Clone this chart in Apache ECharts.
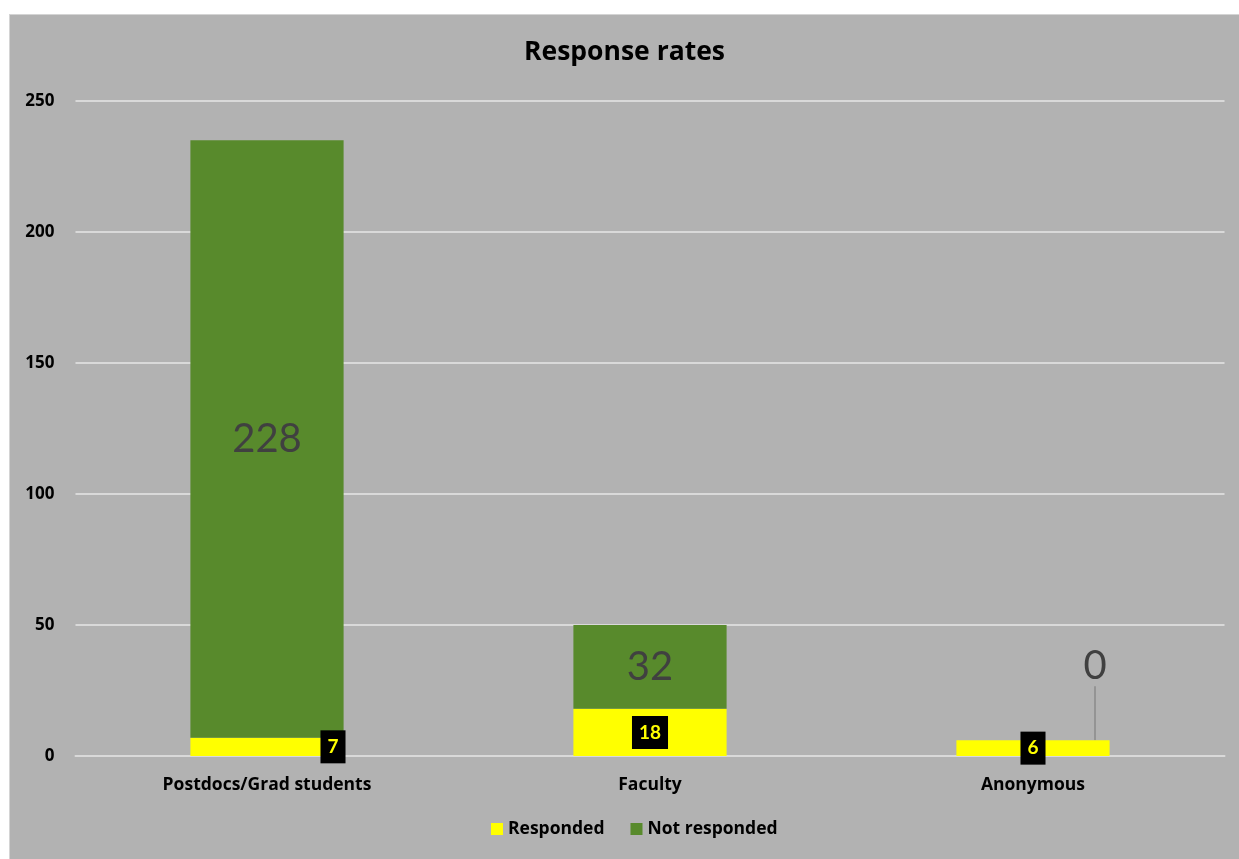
<!DOCTYPE html>
<html>
<head>
<meta charset="utf-8">
<script src="https://cdn.jsdelivr.net/npm/echarts@6/dist/echarts.min.js"></script>
<style>
  html, body { margin: 0; padding: 0; background: #ffffff; width: 1239px; height: 859px; overflow: hidden; }
  #chart { position: absolute; left: 9px; top: 14px; width: 1230px; height: 845px; box-sizing: border-box; border-left: 1px solid #d4d4d4; border-top: 1px solid #d4d4d4; }
</style>
</head>
<body>
<div id="chart"></div>
<script>
const categories = ['Postdocs/Grad students', 'Faculty', 'Anonymous'];
const responded = [7, 18, 6];
const notResponded = [228, 32, 0];
const seriesNames = ['Responded', 'Not responded'];
const yTicks = [0, 50, 100, 150, 200, 250];

const FONT = '"Open Sans", Lato, "DejaVu Sans", sans-serif';
const NUMFONT = 'Lato, "Open Sans", sans-serif';
const chart = echarts.init(document.getElementById('chart'));

chart.setOption({
  backgroundColor: '#b2b2b2',
  animation: false,
  title: {
    text: 'Response rates',
    left: 'center',
    top: 19,
    textStyle: { fontFamily: FONT, fontSize: 26.5, fontWeight: 'bold', color: '#000000' }
  },
  legend: {
    bottom: 16,
    left: 476,
    icon: 'rect',
    itemWidth: 12,
    itemHeight: 12,
    itemGap: 26,
    textStyle: { fontFamily: FONT, fontSize: 17.5, fontWeight: 'bold', color: '#000000' },
    data: seriesNames
  },
  grid: { left: 65.5, right: 14.5, top: 86, bottom: 103, containLabel: false },
  xAxis: {
    type: 'category',
    data: categories,
    axisLine: { show: true, lineStyle: { color: '#d9d9d9', width: 2 } },
    axisTick: { show: false },
    axisLabel: { margin: 20, fontFamily: FONT, fontSize: 17.5, fontWeight: 'bold', color: '#000000' }
  },
  yAxis: {
    type: 'value',
    min: yTicks[0],
    max: yTicks[yTicks.length - 1],
    interval: 50,
    axisLine: { show: false },
    axisTick: { show: false },
    splitLine: { lineStyle: { color: '#d9d9d9', width: 2 } },
    axisLabel: { margin: 21, fontFamily: FONT, fontSize: 17, fontWeight: 'bold', color: '#000000' }
  },
  series: [
    {
      name: seriesNames[0],
      type: 'bar',
      stack: 'total',
      barWidth: '40%',
      itemStyle: { color: '#ffff00' },
      label: {
        show: true,
        position: 'inside',
        fontFamily: NUMFONT,
        fontSize: 19,
        fontWeight: 'bold',
        color: '#ffff00',
        backgroundColor: '#000000',
        padding: [7, 7]
      },
      data: responded.map((v, i) => i === 0 ? { value: v, label: { offset: [66, 0] } } : v)
    },
    {
      name: seriesNames[1],
      type: 'bar',
      stack: 'total',
      barWidth: '40%',
      itemStyle: { color: '#588a2c' },
      label: {
        show: true,
        position: 'inside',
        fontFamily: NUMFONT,
        fontSize: 40,
        color: '#404040'
      },
      labelLayout: function (p) {
        return p.dataIndex === 2 ? { dx: 62, dy: -74 } : {};
      },
      labelLine: { show: true, lineStyle: { color: '#8a8a8a', width: 1.5 } },
      data: notResponded
    }
  ]
});
</script>
</body>
</html>
